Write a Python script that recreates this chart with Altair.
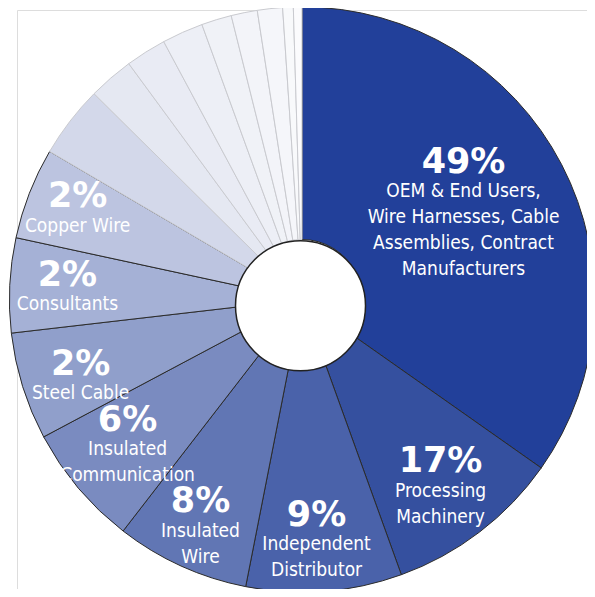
import altair as alt
import pandas as pd

# Slice sizes as drawn (degrees of the ring, clockwise from 12 o'clock)
slice_names = ["OEM", "Processing", "Distributor", "InsWire", "InsComm", "Steel",
               "Consultants", "Copper", "s9", "s10", "s11", "s12", "s13", "s14",
               "s15", "s16", "s17"]
slice_sizes = [125.15, 35.0, 30.95, 26.6, 24.3, 21.4, 18.8, 18.2, 14.3, 9.0, 8.1,
               8.2, 6.0, 5.2, 5.0, 2.1, 1.7]
slice_colors = ["#22409a", "#35509f", "#4a62aa", "#6176b4", "#7a8bc0", "#909fcb",
                "#a5b1d6", "#bcc4e0", "#d3d8ea", "#e5e8f2", "#e9ebf4", "#edeff6",
                "#f0f2f7", "#f3f4f9", "#f5f6fa", "#f8f9fb", "#fbfbfd"]
slice_strokes = ["#2b2b2b"] * 8 + ["#c9cacf"] * 9

# Labels
label_pct = ["49%", "17%", "9%", "8%", "6%", "2%", "2%", "2%"]
label_desc = ["OEM & End Users,\nWire Harnesses, Cable\nAssemblies, Contract\nManufacturers",
              "Processing\nMachinery",
              "Independent\nDistributor",
              "Insulated\nWire",
              "Insulated\nCommunication",
              "Steel Cable",
              "Consultants",
              "Copper Wire"]
# label anchor placement (angle in degrees, distance from centre in px)
label_ang = [49.2, 139.2, 176.1, 206.85, 235.8, 254.2, 276.4, 295.0]
label_rad = [213.4, 212.0, 214.0, 224.7, 210.9, 230.1, 236.0, 247.6]

slices = pd.DataFrame({"name": slice_names, "size": slice_sizes,
                       "color": slice_colors, "stroke": slice_strokes,
                       "idx": list(range(len(slice_names)))})
labels = pd.DataFrame({"pct": label_pct, "desc": label_desc,
                       "ang": label_ang, "rad": label_rad})

TAU = 6.283185307179586
theta_scale = alt.Scale(domain=[0, 360], range=[0, TAU])

ring = alt.Chart(slices).mark_arc(outerRadius=292.6, innerRadius=60, strokeWidth=1).encode(
    theta=alt.Theta("size:Q", scale=theta_scale, stack=True),
    order=alt.Order("idx:Q"),
    color=alt.Color("color:N", scale=None),
    stroke=alt.Stroke("stroke:N", scale=None),
)

# the hole sits slightly below the ring centre in the original artwork
hole = alt.Chart(slices).mark_arc(outerRadius=65, innerRadius=0, fill="white",
                                  stroke="#222222", strokeWidth=1.5).encode(
    theta=alt.value(0), theta2=alt.value(TAU),
    x=alt.value(283.5), y=alt.value(295.7),
).transform_filter(alt.datum.idx == 0)

pct_text = alt.Chart(labels).mark_text(
    font="DejaVu Sans", fontWeight="bold", fontSize=35, color="white",
    align="center", baseline="alphabetic", dy=12.5
).encode(
    theta=alt.Theta("ang:Q", scale=theta_scale, stack=None),
    radius=alt.Radius("rad:Q", scale=None),
    text="pct:N",
)

desc_text = alt.Chart(labels).mark_text(
    font="DejaVu Sans Condensed", fontSize=19, color="white", lineBreak="\n",
    lineHeight=26, align="center", baseline="alphabetic", dy=37
).encode(
    theta=alt.Theta("ang:Q", scale=theta_scale, stack=None),
    radius=alt.Radius("rad:Q", scale=None),
    text="desc:N",
)

chart = alt.layer(ring, hole, pct_text, desc_text).properties(
    width=570, height=579,
    padding={"left": 9, "top": 2, "right": 0, "bottom": 0},
    autosize=alt.AutoSizeParams(type="none"),
).configure_view(stroke=None, strokeWidth=0).configure(background="transparent")

chart.save("out.html", embed_options={"renderer": "svg", "actions": False})
